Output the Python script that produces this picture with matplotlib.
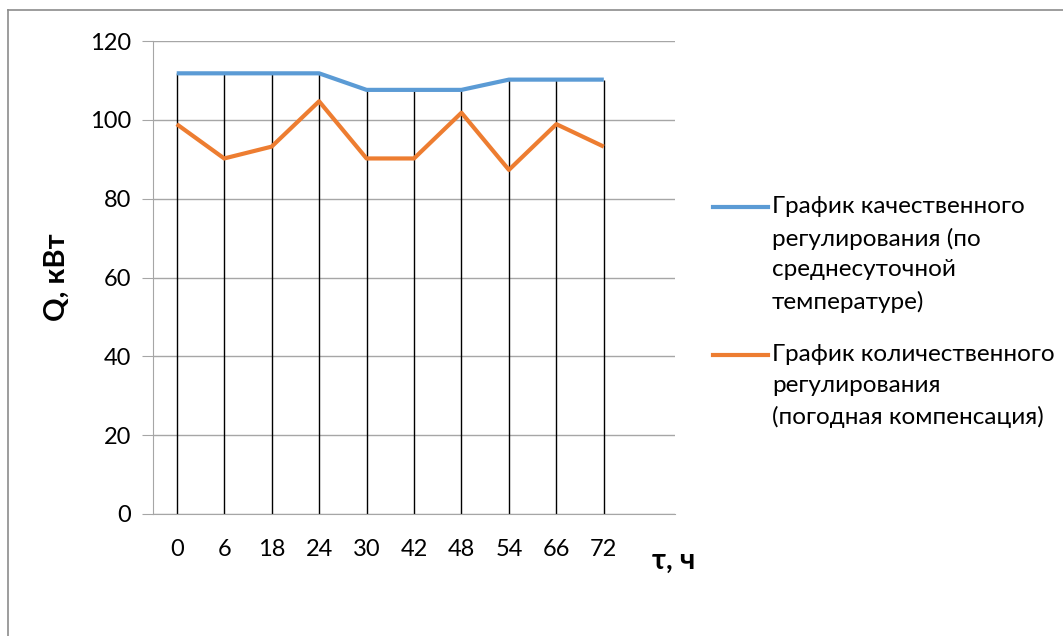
import matplotlib
matplotlib.use("Agg")
import matplotlib.pyplot as plt
from matplotlib.lines import Line2D
import numpy as np

plt.rcParams['font.family'] = ['Lato', 'DejaVu Sans']

hours = ["0", "6", "18", "24", "30", "42", "48", "54", "66", "72"]
quality = [111.8, 111.8, 111.8, 111.8, 107.6, 107.6, 107.6, 110.2, 110.2, 110.2]
quantity = [98.9, 90.2, 93.2, 104.7, 90.2, 90.2, 101.8, 87.3, 98.9, 93.2]
labels = [
    "График качественного\nрегулирования (по\nсреднесуточной\nтемпературе)",
    "График количественного\nрегулирования\n(погодная компенсация)",
]
colors = ["#5B9BD5", "#ED7D31"]
yticks = [0, 20, 40, 60, 80, 100, 120]

W, H = 1063, 636
fig = plt.figure(figsize=(W / 100, H / 100), dpi=100)
ax = fig.add_axes([153 / W, 1 - 514 / H, 522 / W, 473 / H])

x = np.arange(len(hours))
top = np.maximum(quality, quantity)
ax.vlines(x, 0, top, color="black", lw=1.0, zorder=2)
ax.plot(x, quality, color=colors[0], lw=3, solid_capstyle="butt", zorder=3)
ax.plot(x, quantity, color=colors[1], lw=3, solid_capstyle="butt", zorder=3)

ax.set_xlim(-0.5, 10.5)
ax.set_ylim(0, 120)
ax.set_yticks(yticks)
ax.set_xticks(x)
ax.set_xticklabels(hours)
ax.grid(axis="y", color="#a6a6a6", lw=1)
ax.set_axisbelow(True)
for s in ["top", "right"]:
    ax.spines[s].set_visible(False)
ax.spines["left"].set_color("#a6a6a6")
ax.spines["bottom"].set_color("#a6a6a6")
ax.tick_params(axis="y", length=8, color="#a6a6a6", labelsize=17, pad=8)
ax.tick_params(axis="x", length=0, labelsize=17, pad=18)

fig.text(57 / W, 1 - 277 / H, "Q, кВт", rotation=90, fontsize=21,
         fontweight="bold", ha="center", va="center")
fig.text(674 / W, 1 - 561 / H, "τ, ч", fontsize=21, fontweight="bold",
         ha="center", va="center")

# legend drawn by hand so each line sits next to the first row of its label
legend_rows = [207, 355]
for lab, col, yrow in zip(labels, colors, legend_rows):
    fig.add_artist(Line2D([713 / W, 768 / W], [1 - yrow / H] * 2,
                          color=col, lw=3, transform=fig.transFigure))
    fig.text(772 / W, 1 - (yrow - 11) / H, lab, fontsize=17.5, ha="left",
             va="top", linespacing=1.58)

# chart frame
fig.add_artist(Line2D([8 / W, 1], [1 - 10 / H] * 2, color="#8c8c8c", lw=1.2,
                      transform=fig.transFigure))
fig.add_artist(Line2D([8 / W] * 2, [0, 1 - 10 / H], color="#8c8c8c", lw=1.2,
                      transform=fig.transFigure))

fig.savefig("out.png", dpi=100, facecolor="white")
